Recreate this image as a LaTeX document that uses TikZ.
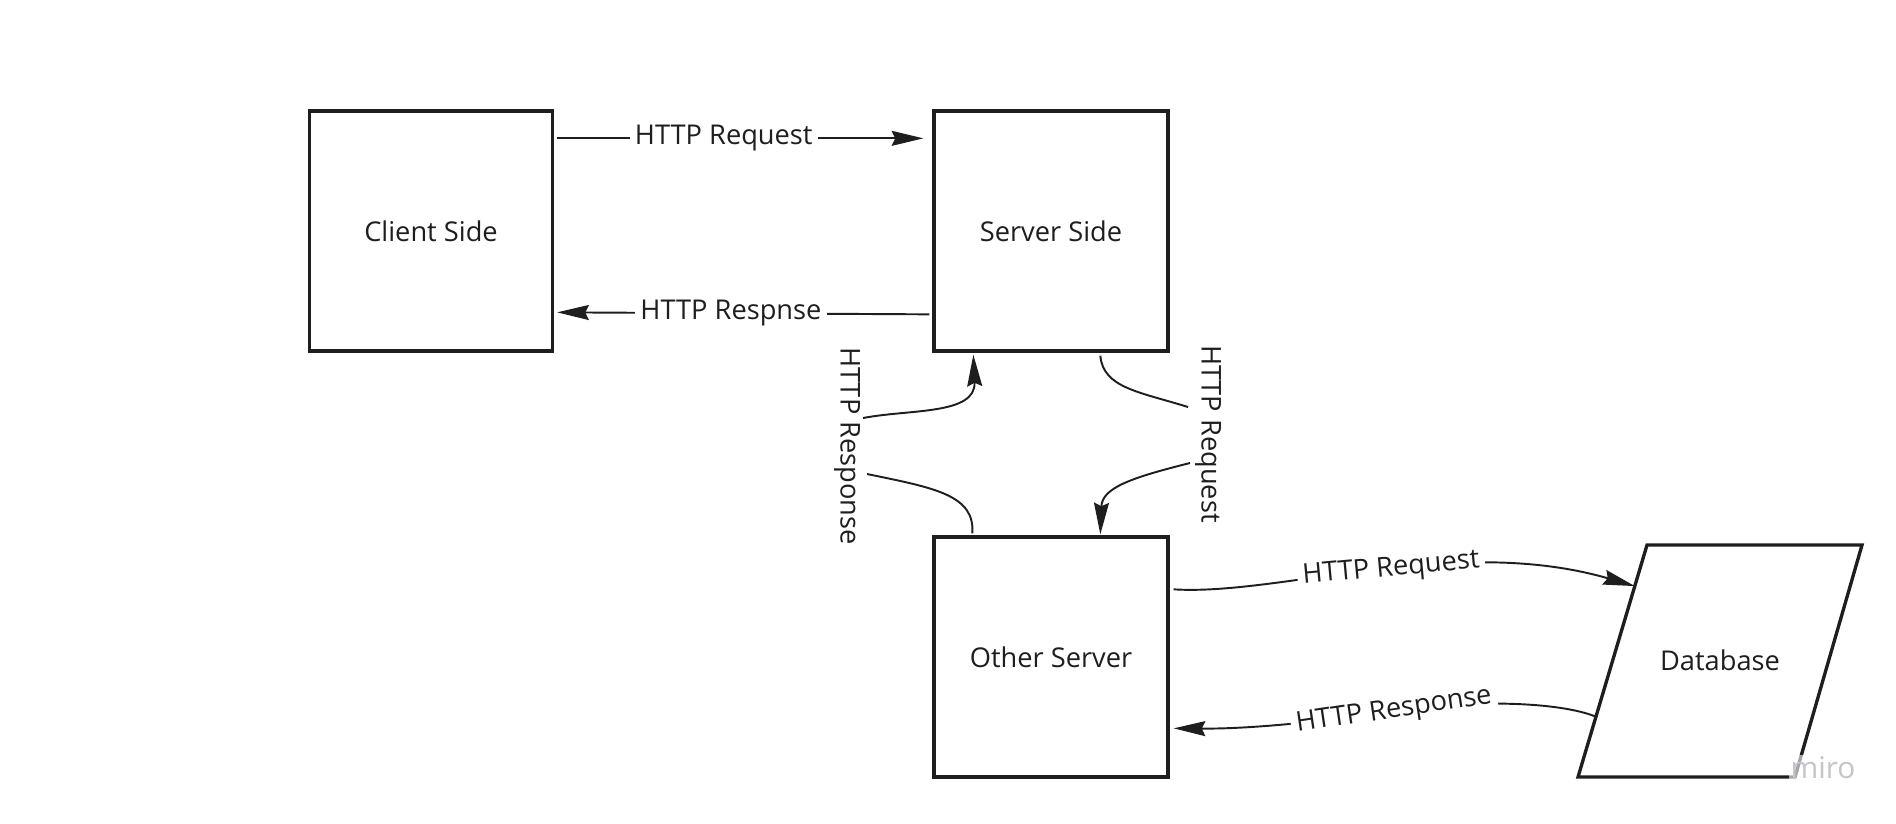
\documentclass[tikz,border=0pt]{standalone}
\usepackage{fontspec}
\setmainfont{Open Sans}
\usetikzlibrary{arrows.meta, calc}

\begin{document}
\begin{tikzpicture}[
    x=0.02cm, y=-0.02cm,
    every node/.style={font=\fontsize{15.5}{18}\selectfont, text=ink},
    box/.style={draw=ink, line width=1.9pt},
    lbl/.style={fill=white, inner sep=3pt},
    wire/.style={draw=ink, line width=1.1pt},
    conn/.style={wire, -{Stealth[length=18pt, width=8.5pt, inset=2pt]}},
]

\definecolor{ink}{HTML}{1E1E1E}   % boxes, lines and text
\definecolor{mark}{HTML}{C4C4CC}  % the watermark

\def\px{0.02cm}

\useasboundingbox (0,0) rectangle (1896,823);

% ================================================================
%   all positions in pixels of the 1896 x 823 page, y going down
% ================================================================

% ---------------------------------------------------------------- boxes
\foreach \name/\cx/\cy/\w/\txt in {%
    client/431/231/243/{Client Side},
    server/1051/231/234/{Server Side},
    other/1051/657/234/{Other Server}} {
  \node[box, minimum width=\w*\px, minimum height=240*\px] (\name) at (\cx,\cy) {\txt};
}

% the database is a slanted box
\coordinate (dbbl) at (1578,777);
\coordinate (dbtl) at (1647,545);
\coordinate (dbtr) at (1862,545);
\coordinate (dbbr) at (1795,777);
\draw[box, line join=miter] (dbbl) -- (dbtl) -- (dbtr) -- (dbbr) -- cycle;
\node (db) at (1720,660) {Database};

% ---------------------------------------------------------------- client <-> server
\draw[conn] ($(client.north east)+(3,29)$) -- ($(server.north west)+(-9,29)$)
    node[lbl, pos=0.455] (req1) {HTTP Request};
\draw[conn] ($(server.north west)+(-3,205)$) -- ($(client.north east)+(3,203)$)
    node[lbl, pos=0.533] (rsp1) {HTTP Respnse};

% ---------------------------------------------------------------- server <-> other
\node[rotate=-90] (rsp2) at (847,446) {HTTP Response};
\node[rotate=-90] (req2) at (1208,434) {HTTP Request};

\coordinate (lgapb) at (867,474);
\coordinate (lgapt) at (863,418);
\coordinate (rgapt) at (1188,407);
\coordinate (rgapb) at (1190,463);

% the lines stop short of the turned labels
\draw[wire] ($(other.north west)+(40,-2)$) .. controls (975,495) and (935,488) .. (lgapb);
\draw[conn] (lgapt) .. controls (910,409) and (976,415) .. ($(server.south west)+(41,2)$);

\draw[wire] ($(server.south west)+(168,3)$) .. controls (1103,388) and (1140,392) .. (rgapt);
\draw[conn] (rgapb) .. controls (1130,478) and (1102,488) .. ($(other.north west)+(168,-1)$);

% ---------------------------------------------------------------- other <-> database
\draw[conn] ($(other.north east)+(4,54)$) .. controls (1280,596) and (1455,534) ..
    ($(dbbl)!0.823!(dbtl)$)
    node[lbl, pos=0.53, sloped] (req3) {HTTP Request};

\coordinate (rspmid) at (1394,711);
\draw[conn] ($(dbbl)!0.26!(dbtl)$) .. controls (1560,702) and (1475,699) .. (rspmid)
    .. controls (1320,722) and (1250,729) .. ($(other.north east)+(4,193)$)
    node[lbl, pos=0, sloped] (rsp3) {HTTP Response};

% ---------------------------------------------------------------- watermark
\node[text=mark, font=\fontsize{17}{18}\selectfont, fill=white, fill opacity=0.6,
      text opacity=1, inner sep=1pt] (wm) at (1823,768) {miro};

\end{tikzpicture}
\end{document}
